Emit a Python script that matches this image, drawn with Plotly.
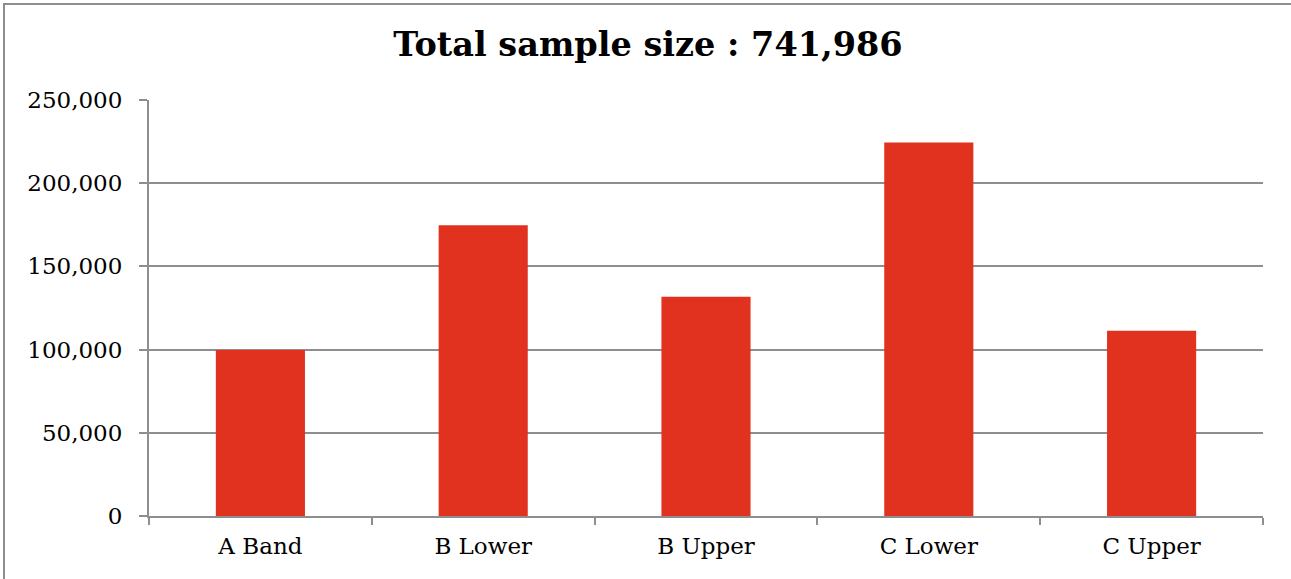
import plotly.graph_objects as go

# Sample counts per band
categories = ["A Band", "B Lower", "B Upper", "C Lower", "C Upper"]
sample_counts = [99800, 174800, 131700, 224400, 111286]
y_tick_values = [0, 50000, 100000, 150000, 200000, 250000]
y_tick_labels = ["0", "50,000", "100,000", "150,000", "200,000", "250,000"]

total = sum(sample_counts)

W, H = 1291, 579
L, R, T, B = 149, 28, 100, 63
plot_w = W - L - R
plot_h = H - T - B

BAR_RED = "#e0321f"
GRID = "#8e8e8e"
FONT = "DejaVu Serif"

fig = go.Figure(
    go.Bar(
        x=categories,
        y=sample_counts,
        marker=dict(color=BAR_RED, line=dict(width=0)),
        hoverinfo="x+y",
    )
)

# outer frame of the chart area (runs off the right and bottom edges)
fx0 = (4 - L) / plot_w
fy1 = (H - B - 4) / plot_h
fig.add_shape(
    type="rect", xref="paper", yref="paper",
    x0=fx0, x1=1.2, y0=-0.5, y1=fy1,
    line=dict(color=GRID, width=2), fillcolor="rgba(0,0,0,0)", layer="below",
)

fig.update_layout(
    width=W, height=H,
    margin=dict(l=L, r=R, t=T, b=B, pad=0),
    paper_bgcolor="white", plot_bgcolor="white",
    bargap=0.6,
    showlegend=False,
    title=dict(
        text=f"<b>Total sample size : {total:,}</b>",
        font=dict(family=FONT, size=33.5, color="black"),
        x=648 / W, xanchor="center", xref="container",
        y=1 - 44 / H, yanchor="middle", yref="container",
    ),
    font=dict(family=FONT, color="black"),
)

fig.update_xaxes(
    showline=True, linecolor=GRID, linewidth=2,
    ticks="outside", tickson="boundaries", ticklen=7, tickwidth=2, tickcolor=GRID,
    tickfont=dict(family=FONT, size=23, color="black"),
    showgrid=False,
    ticklabelstandoff=8,
)

fig.update_yaxes(
    range=[0, 250000],
    tickvals=y_tick_values, ticktext=y_tick_labels,
    showline=True, linecolor=GRID, linewidth=2,
    ticks="outside", ticklen=8, tickwidth=2, tickcolor=GRID,
    showgrid=True, gridcolor=GRID, gridwidth=2,
    zeroline=False,
    tickfont=dict(family=FONT, size=23, color="black"),
    ticklabelstandoff=12,
)

fig.write_html("out.html")
